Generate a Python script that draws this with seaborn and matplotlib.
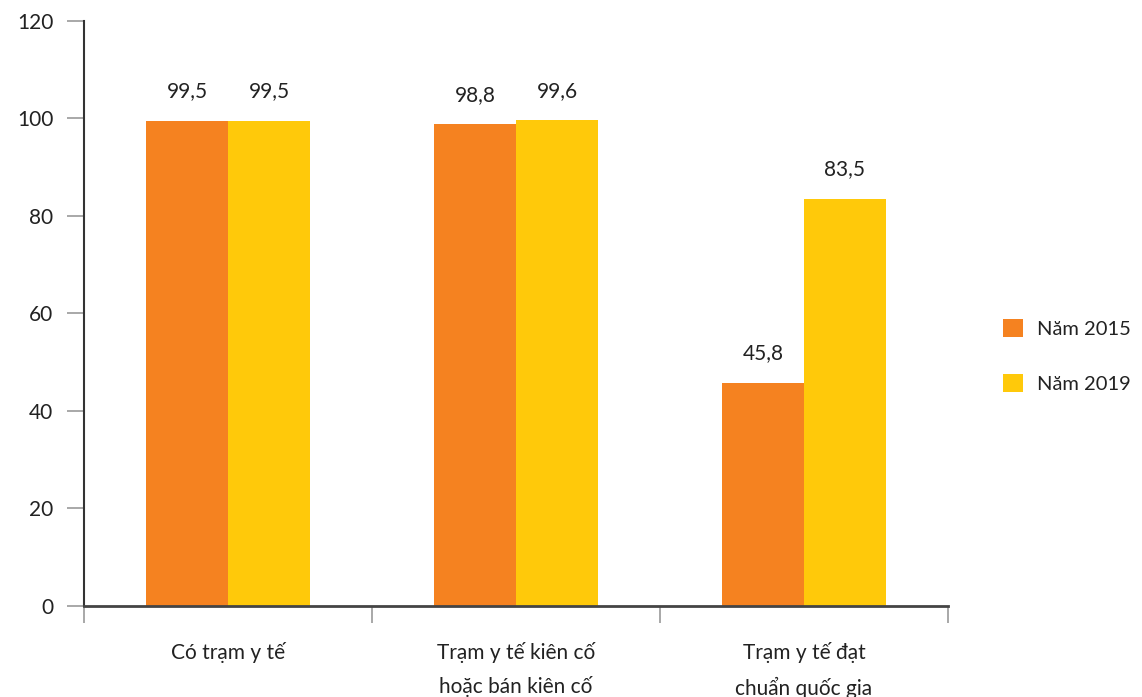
import seaborn as sns
import matplotlib.pyplot as plt
import pandas as pd
from matplotlib.ticker import FixedLocator

# dữ liệu
categories = ['Có trạm y tế', 'Trạm y tế kiên cố\nhoặc bán kiên cố', 'Trạm y tế đạt\nchuẩn quốc gia']
years = ['Năm 2015', 'Năm 2019']
values_2015 = [99.5, 98.8, 45.8]
values_2019 = [99.5, 99.6, 83.5]
colors = ['#F58220', '#FFC90A']

df = pd.DataFrame({
    'cat': categories * 2,
    'year': [years[0]] * 3 + [years[1]] * 3,
    'val': values_2015 + values_2019,
})

sns.set_style('white')
plt.rcParams['font.family'] = ['Lato', 'DejaVu Sans']

fig = plt.figure(figsize=(11.42, 6.97), dpi=100)
ax = fig.add_axes([0.0736, 0.1306, 0.7564, 0.8394])

sns.barplot(data=df, x='cat', y='val', hue='year', palette=colors,
            width=0.57, saturation=1, ax=ax, linewidth=0)

for cont in ax.containers:
    ax.bar_label(cont, labels=[f'{v:.1f}'.replace('.', ',') for v in cont.datavalues],
                 padding=14, fontsize=15, color='#222222')

ax.set_ylim(0, 120)
ax.set_xlim(-0.5, 2.5)
ax.set_yticks(range(0, 121, 20))
ax.set_xlabel('')
ax.set_ylabel('')

# trục
for s in ['top', 'right']:
    ax.spines[s].set_visible(False)
ax.spines['left'].set_color('#333333')
ax.spines['left'].set_linewidth(1.5)
ax.spines['bottom'].set_color('#444444')
ax.spines['bottom'].set_linewidth(2)

ax.tick_params(axis='y', which='major', direction='out', length=12, width=1.2,
               color='#999999', labelsize=15, labelcolor='#222222', pad=10, left=True)
ax.tick_params(axis='x', which='major', length=0, labelsize=15, labelcolor='#222222', pad=26)
ax.xaxis.set_minor_locator(FixedLocator([-0.5, 0.5, 1.5, 2.5]))
ax.tick_params(axis='x', which='minor', direction='out', length=12, width=1.2,
               color='#999999', bottom=True)
for t in ax.get_xticklabels():
    t.set_linespacing(1.75)

# chú giải
ax.legend(loc='center left', bbox_to_anchor=(1.043, 0.427), frameon=False,
          fontsize=14.5, handlelength=1.0, handleheight=1.0, labelspacing=1.8,
          handletextpad=0.7, labelcolor='#222222')

fig.savefig('out.png', dpi=100)
